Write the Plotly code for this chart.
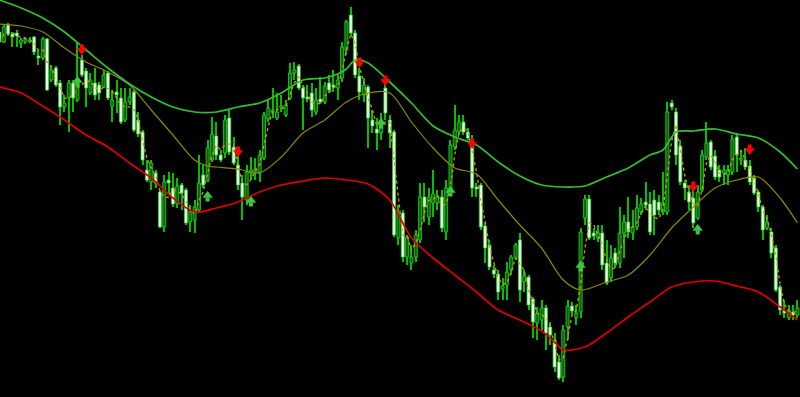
import plotly.graph_objects as go
import pandas as pd

# OHLC values (vertical chart units, axis drawn top-down), one per bar
open_ = [32,42,25,34,33,43,42,42,37,56,58,39,80,68,83,107,98,83,100,60,
         71,93,83,85,87,73,106,92,98,120,102,92,120,132,170,182,173,192,227,180,
         188,204,185,190,222,220,210,175,180,160,136,155,153,118,147,165,183,200,173,172,
         173,158,119,112,118,108,115,98,73,66,88,97,93,112,99,102,83,85,88,78,
         50,15,33,76,95,87,120,129,133,88,120,132,238,213,257,263,257,240,197,217,
         203,203,197,232,190,147,132,122,132,142,187,185,226,245,270,274,289,285,270,258,
         240,282,277,299,323,320,308,327,340,362,377,327,306,318,312,218,199,233,238,233,
         263,278,253,263,233,222,233,227,212,202,204,200,202,212,212,103,112,146,183,192,
         198,218,190,157,142,156,170,173,175,172,137,160,160,166,178,192,207,228,232,248,
         287,310,318,312,315]
high = [30,25,23,32,30,38,37,37,36,50,37,38,66,66,80,95,80,80,42,55,
        68,73,68,82,70,71,90,80,88,88,88,90,112,130,160,160,170,190,175,172,
        173,178,183,188,205,200,155,165,140,117,122,150,115,110,137,150,175,165,157,158,
        150,112,100,88,93,95,100,63,62,64,85,85,83,88,77,82,75,70,75,42,
        20,7,30,68,78,85,110,118,113,83,115,130,205,210,235,245,230,183,183,188,
        170,190,190,180,140,105,115,115,128,135,183,183,223,240,265,270,278,262,255,243,
        233,270,275,297,307,300,305,322,333,355,325,300,302,305,228,195,195,228,225,225,
        240,245,248,207,215,197,210,195,198,182,192,190,195,172,102,100,108,140,180,185,
        190,185,150,122,140,150,165,165,165,135,133,150,148,160,175,190,205,215,228,245,
        285,300,305,305,300]
low = [44,43,36,47,47,48,44,43,55,65,60,91,82,87,125,112,132,112,102,77,
       107,95,100,100,88,100,122,113,124,122,105,132,137,165,182,190,188,228,232,195,
       207,208,210,225,232,233,212,188,182,162,160,162,158,155,165,190,220,205,180,180,
       182,160,122,118,120,112,117,100,80,90,130,102,117,115,104,104,93,92,100,82,
       55,35,78,100,102,148,133,150,140,120,148,237,245,262,265,270,262,243,222,225,
       217,210,232,240,192,150,135,135,140,197,197,230,263,270,278,300,300,300,275,260,
       302,292,310,338,340,330,350,345,372,380,382,340,315,325,318,225,240,240,242,270,
       285,282,268,268,258,238,240,230,215,210,235,235,215,215,215,110,165,185,200,210,
       228,220,192,160,170,180,182,185,185,175,172,165,170,185,195,212,240,230,258,292,
       315,318,320,320,318]
close = [42,27,34,37,36,40,39,40,52,58,39,90,70,85,107,103,83,98,82,75,
         88,80,95,93,75,98,100,95,122,102,97,130,134,160,180,163,183,227,182,183,
         204,186,193,223,212,207,183,185,148,134,155,160,120,152,163,185,197,172,170,169,
         155,115,108,110,112,106,105,73,70,88,98,99,110,100,102,86,90,87,80,47,
         22,33,75,92,85,118,126,133,120,113,133,235,213,257,237,257,235,197,207,197,
         194,196,228,188,145,130,122,132,138,188,189,227,248,267,274,292,286,272,257,245,
         290,276,305,322,313,308,333,335,367,378,330,306,311,313,232,199,238,236,233,265,
         283,258,263,233,222,232,227,208,204,205,232,215,210,203,112,107,155,182,188,202,
         223,192,155,143,167,177,177,170,170,139,155,158,167,182,193,207,230,222,253,290,
         310,313,310,315,308]

# Smooth indicator bands, sampled at bar positions
band_x = [0,5,10,15,20,25,30,35,40,45,50,55,60,65,70,75,78,80,82,85,90,95,100,105,
          110,115,120,125,130,135,140,145,150,153,156,160,165,170,175,180,184]
upper_band = [0,8,18,32,50,68,84,97,107,112,112,107,103,93,80,78,74,69,60,63,82,103,126,137,
              145,162,176,185,187,186,177,168,155,150,132,131,129,134,138,152,169]
mid_x = [0,5,10,15,20,25,30,35,40,45,48,50,55,60,65,70,75,80,85,90,95,100,105,110,
         115,120,125,130,134,140,145,150,155,160,165,170,175,180,184]
mid_line = [24,26,32,48,62,72,85,110,135,160,166,167,169,173,157,133,120,102,93,93,122,148,168,174,
            200,225,248,280,290,282,275,255,228,207,188,180,177,198,223]
low_x = [0,5,10,15,20,25,30,35,40,45,50,55,60,65,70,75,80,85,90,95,100,105,110,115,
         120,125,128,130,135,140,145,150,155,160,165,170,175,180,184]
lower_band = [87,93,106,120,135,147,163,178,198,212,208,202,192,185,181,178,180,184,200,238,258,275,292,310,
              320,331,342,350,347,333,317,302,287,282,281,286,292,307,320]

# Signal arrows: bar index and level
sell_bars = [19,55,83,89,109,160,173]
sell_level = [49,151,62,80,143,186,149]
buy_bars = [18,48,58,88,104,134,161]
buy_level = [82,197,202,124,192,267,230]

n = len(close)
idx = list(range(n))
fast_ma = pd.Series(close).rolling(3, min_periods=1).mean().tolist()

WICK = "#00c000"
EDGE = "#22d822"
BEAR_FILL = "#f4fff4"
BULL_FILL = "#0a640a"

fig = go.Figure()

# wicks
fig.add_trace(go.Bar(
    x=idx, base=high, y=[l - h for h, l in zip(high, low)],
    width=0.24, marker=dict(color=WICK, line=dict(width=0)), hoverinfo="skip"))

# bodies
body_base = [min(o, c) for o, c in zip(open_, close)]
body_h = [max(abs(o - c), 1.5) for o, c in zip(open_, close)]
fills = [BEAR_FILL if c > o else BULL_FILL for o, c in zip(open_, close)]
fig.add_trace(go.Bar(
    x=idx, base=body_base, y=body_h, width=0.7,
    marker=dict(color=fills, line=dict(color=EDGE, width=0.8)), hoverinfo="skip"))

# fast dotted average
fig.add_trace(go.Scatter(x=idx, y=fast_ma, mode="lines",
                         line=dict(color="#c8a000", width=1.3, dash="dot")))
# middle olive line
fig.add_trace(go.Scatter(x=mid_x, y=mid_line, mode="lines",
                         line=dict(color="#8a8a00", width=1.2, shape="spline", smoothing=0.8)))
# upper green band
fig.add_trace(go.Scatter(x=band_x, y=upper_band, mode="lines",
                         line=dict(color="#32c032", width=1.7, shape="spline", smoothing=0.8)))
# lower red band
fig.add_trace(go.Scatter(x=low_x, y=lower_band, mode="lines",
                         line=dict(color="#e00000", width=1.7, shape="spline", smoothing=0.8)))

# sell arrows (red, pointing down)
fig.add_trace(go.Scatter(x=sell_bars, y=[v - 2.5 for v in sell_level], mode="markers",
                         marker=dict(symbol="square", size=4, color="#ff0000", line=dict(width=0))))
fig.add_trace(go.Scatter(x=sell_bars, y=[v + 1.5 for v in sell_level], mode="markers",
                         marker=dict(symbol="triangle-down", size=9, color="#ff0000", line=dict(width=0))))
# buy arrows (green, pointing up)
fig.add_trace(go.Scatter(x=buy_bars, y=[v + 2.5 for v in buy_level], mode="markers",
                         marker=dict(symbol="square", size=4, color="#3cc83c", line=dict(width=0))))
fig.add_trace(go.Scatter(x=buy_bars, y=[v - 1.5 for v in buy_level], mode="markers",
                         marker=dict(symbol="triangle-up", size=9, color="#3cc83c", line=dict(width=0))))

fig.update_layout(
    width=800, height=397,
    margin=dict(l=0, r=0, t=0, b=0),
    paper_bgcolor="#000000", plot_bgcolor="#000000",
    showlegend=False, barmode="overlay",
    xaxis=dict(visible=False, range=[0.13, 184.59], fixedrange=True),
    yaxis=dict(visible=False, range=[397, 0], fixedrange=True),
)

fig.write_html("out.html")
